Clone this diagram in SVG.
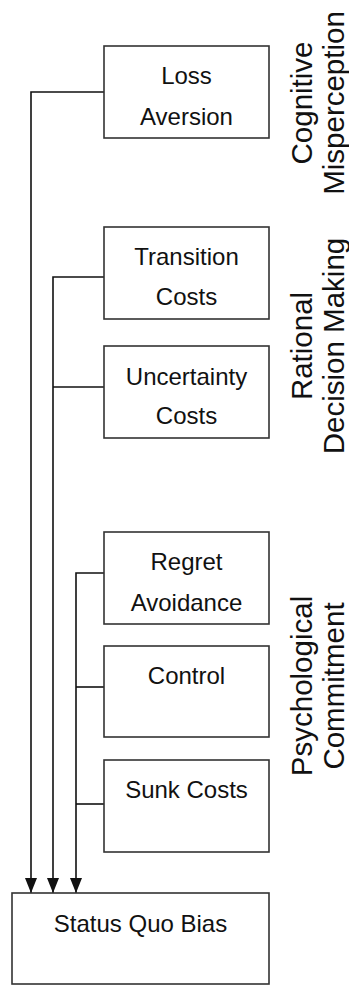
<svg xmlns="http://www.w3.org/2000/svg" width="349" height="985" viewBox="0 0 349 985">
<style>
.box{fill:#fff;stroke:#333;stroke-width:1.6}
.t{font-family:"Liberation Sans",Arial,sans-serif;font-size:24px;fill:#111;text-anchor:middle}
.r{font-family:"Liberation Sans",Arial,sans-serif;font-size:29.5px;fill:#111;text-anchor:middle}
.c{fill:none;stroke:#111;stroke-width:1.6}
</style>
<defs>
<marker id="arr" viewBox="0 0 15 12" refX="15" refY="6" markerWidth="15" markerHeight="12" markerUnits="userSpaceOnUse" orient="auto">
<path d="M0,0 L15,6 L0,12 z" fill="#111"/>
</marker>
</defs>
<rect width="349" height="985" fill="#fff"/>
<g id="connectors">
<path class="c" d="M104,92 H31 V893" marker-end="url(#arr)"/>
<path class="c" d="M104,277 H53 V893" marker-end="url(#arr)"/>
<path class="c" d="M104,387 H53"/>
<path class="c" d="M104,573 H76 V893" marker-end="url(#arr)"/>
<path class="c" d="M104,687 H76"/>
<path class="c" d="M104,804 H76"/>
</g>
<g id="loss-aversion">
<rect class="box" x="104" y="46" width="165" height="92"/>
<text class="t" x="186.5" y="84">Loss</text>
<text class="t" x="186.5" y="125">Aversion</text>
</g>
<g id="transition-costs">
<rect class="box" x="104" y="227" width="165" height="92"/>
<text class="t" x="186.5" y="265">Transition</text>
<text class="t" x="186.5" y="305">Costs</text>
</g>
<g id="uncertainty-costs">
<rect class="box" x="104" y="346" width="165" height="92"/>
<text class="t" x="186.5" y="385">Uncertainty</text>
<text class="t" x="186.5" y="424">Costs</text>
</g>
<g id="regret-avoidance">
<rect class="box" x="104" y="532" width="165" height="92"/>
<text class="t" x="186.5" y="570">Regret</text>
<text class="t" x="186.5" y="611">Avoidance</text>
</g>
<g id="control">
<rect class="box" x="104" y="646" width="165" height="91"/>
<text class="t" x="186.5" y="684">Control</text>
</g>
<g id="sunk-costs">
<rect class="box" x="104" y="760" width="165" height="92"/>
<text class="t" x="186.5" y="798">Sunk Costs</text>
</g>
<g id="status-quo-bias">
<rect class="box" x="12" y="893" width="257" height="91"/>
<text class="t" x="140.5" y="932">Status Quo Bias</text>
</g>
<g id="label-cognitive">
<text class="r" transform="translate(312,103) rotate(-90)">Cognitive</text>
<text class="r" transform="translate(344,103) rotate(-90)">Misperception</text>
</g>
<g id="label-rational">
<text class="r" transform="translate(312,346) rotate(-90)">Rational</text>
<text class="r" transform="translate(344,346) rotate(-90)">Decision Making</text>
</g>
<g id="label-psychological">
<text class="r" transform="translate(312,686) rotate(-90)">Psychological</text>
<text class="r" transform="translate(344,686) rotate(-90)">Commitment</text>
</g>
</svg>
